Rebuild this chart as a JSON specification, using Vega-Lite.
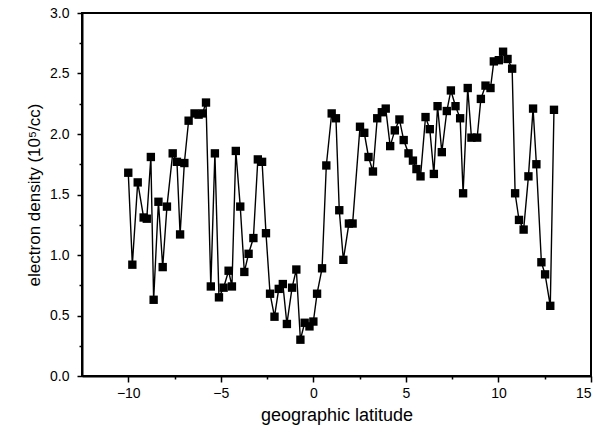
{
  "$schema": "https://vega.github.io/schema/vega-lite/v6.json",
  "width": 509,
  "height": 363,
  "autosize": "none",
  "padding": {"left": 82, "top": 13, "right": 8, "bottom": 59},
  "config": {
    "view": {"stroke": "black", "strokeWidth": 2},
    "font": "Liberation Sans"
  },
  "data": {
    "values": [
      {"lat": -10.0, "ne": 1.68}, {"lat": -9.78, "ne": 0.92}, {"lat": -9.49, "ne": 1.6},
      {"lat": -9.17, "ne": 1.31}, {"lat": -9.0, "ne": 1.3}, {"lat": -8.78, "ne": 1.81},
      {"lat": -8.63, "ne": 0.63}, {"lat": -8.37, "ne": 1.44}, {"lat": -8.14, "ne": 0.9},
      {"lat": -7.91, "ne": 1.4}, {"lat": -7.6, "ne": 1.84}, {"lat": -7.37, "ne": 1.77},
      {"lat": -7.2, "ne": 1.17}, {"lat": -6.97, "ne": 1.76}, {"lat": -6.74, "ne": 2.11},
      {"lat": -6.42, "ne": 2.17}, {"lat": -6.2, "ne": 2.16}, {"lat": -5.99, "ne": 2.17},
      {"lat": -5.8, "ne": 2.26}, {"lat": -5.54, "ne": 0.74}, {"lat": -5.32, "ne": 1.84},
      {"lat": -5.1, "ne": 0.65}, {"lat": -4.85, "ne": 0.73}, {"lat": -4.58, "ne": 0.87},
      {"lat": -4.4, "ne": 0.74}, {"lat": -4.19, "ne": 1.86}, {"lat": -3.95, "ne": 1.4},
      {"lat": -3.73, "ne": 0.86}, {"lat": -3.5, "ne": 1.01}, {"lat": -3.24, "ne": 1.14},
      {"lat": -3.0, "ne": 1.79}, {"lat": -2.77, "ne": 1.77}, {"lat": -2.56, "ne": 1.18},
      {"lat": -2.34, "ne": 0.68}, {"lat": -2.1, "ne": 0.49}, {"lat": -1.87, "ne": 0.72},
      {"lat": -1.65, "ne": 0.76}, {"lat": -1.43, "ne": 0.43}, {"lat": -1.15, "ne": 0.73},
      {"lat": -0.92, "ne": 0.88}, {"lat": -0.7, "ne": 0.3}, {"lat": -0.47, "ne": 0.44},
      {"lat": -0.21, "ne": 0.41}, {"lat": 0.0, "ne": 0.45}, {"lat": 0.2, "ne": 0.68},
      {"lat": 0.47, "ne": 0.89}, {"lat": 0.7, "ne": 1.74}, {"lat": 0.99, "ne": 2.17},
      {"lat": 1.22, "ne": 2.13}, {"lat": 1.4, "ne": 1.37}, {"lat": 1.62, "ne": 0.96},
      {"lat": 1.92, "ne": 1.26}, {"lat": 2.12, "ne": 1.26}, {"lat": 2.52, "ne": 2.06},
      {"lat": 2.75, "ne": 2.01}, {"lat": 2.98, "ne": 1.81}, {"lat": 3.22, "ne": 1.69},
      {"lat": 3.45, "ne": 2.13}, {"lat": 3.7, "ne": 2.18}, {"lat": 3.91, "ne": 2.21},
      {"lat": 4.15, "ne": 1.9}, {"lat": 4.4, "ne": 2.03}, {"lat": 4.65, "ne": 2.12},
      {"lat": 4.88, "ne": 1.95}, {"lat": 5.14, "ne": 1.84}, {"lat": 5.38, "ne": 1.78},
      {"lat": 5.57, "ne": 1.71}, {"lat": 5.79, "ne": 1.65}, {"lat": 6.06, "ne": 2.14},
      {"lat": 6.29, "ne": 2.04}, {"lat": 6.51, "ne": 1.67}, {"lat": 6.71, "ne": 2.23},
      {"lat": 6.94, "ne": 1.85}, {"lat": 7.21, "ne": 2.19}, {"lat": 7.43, "ne": 2.36},
      {"lat": 7.68, "ne": 2.23}, {"lat": 7.93, "ne": 2.13}, {"lat": 8.09, "ne": 1.51},
      {"lat": 8.34, "ne": 2.38}, {"lat": 8.54, "ne": 1.97}, {"lat": 8.85, "ne": 1.97},
      {"lat": 9.05, "ne": 2.29}, {"lat": 9.3, "ne": 2.4}, {"lat": 9.57, "ne": 2.38},
      {"lat": 9.75, "ne": 2.6}, {"lat": 10.02, "ne": 2.61}, {"lat": 10.25, "ne": 2.68},
      {"lat": 10.49, "ne": 2.62}, {"lat": 10.74, "ne": 2.54}, {"lat": 10.9, "ne": 1.51},
      {"lat": 11.11, "ne": 1.29}, {"lat": 11.36, "ne": 1.21}, {"lat": 11.62, "ne": 1.65},
      {"lat": 11.87, "ne": 2.21}, {"lat": 12.05, "ne": 1.75}, {"lat": 12.32, "ne": 0.94},
      {"lat": 12.52, "ne": 0.84}, {"lat": 12.8, "ne": 0.58}, {"lat": 13.0, "ne": 2.2}
    ]
  },
  "layer": [
    {
      "mark": {"type": "line", "color": "black", "strokeWidth": 1.4},
      "encoding": {
        "x": {
          "field": "lat", "type": "quantitative",
          "scale": {"domain": [-12.5, 15], "nice": false, "zero": false},
          "axis": {
            "values": [-10, -5, 0, 5, 10, 15], "grid": false,
            "domainColor": "black", "domainWidth": 2,
            "tickColor": "black", "tickWidth": 1.5, "tickSize": 6,
            "labelColor": "black", "labelFontSize": 14, "labelPadding": 4,
            "title": "geographic latitude", "titleFontSize": 18, "titleFontWeight": "normal",
            "titleColor": "black", "titlePadding": 6
          }
        },
        "y": {
          "field": "ne", "type": "quantitative",
          "scale": {"domain": [0, 3], "nice": false},
          "axis": {
            "values": [0, 0.5, 1, 1.5, 2, 2.5, 3], "format": ".1f", "grid": false,
            "domainColor": "black", "domainWidth": 2,
            "tickColor": "black", "tickWidth": 1.5, "tickSize": 5,
            "labelColor": "black", "labelFontSize": 14, "labelPadding": 8,
            "title": "electron density (10⁵/cc)", "titleFontSize": 17, "titleFontWeight": "normal",
            "titleColor": "black", "titlePadding": 6
          }
        }
      }
    },
    {
      "mark": {"type": "square", "color": "black", "filled": true, "opacity": 1, "size": 70},
      "encoding": {
        "x": {
          "field": "lat", "type": "quantitative",
          "scale": {"domain": [-12.5, 15], "nice": false, "zero": false},
          "axis": {
            "orient": "bottom", "values": [-7.5, -2.5, 2.5, 7.5, 12.5], "grid": false,
            "domain": false, "labels": false, "title": null,
            "tickColor": "black", "tickWidth": 1.5, "tickSize": 3
          }
        },
        "y": {
          "field": "ne", "type": "quantitative",
          "scale": {"domain": [0, 3], "nice": false},
          "axis": {
            "orient": "left", "values": [0.25, 0.75, 1.25, 1.75, 2.25, 2.75], "grid": false,
            "domain": false, "labels": false, "title": null,
            "tickColor": "black", "tickWidth": 1.5, "tickSize": 3
          }
        }
      }
    }
  ],
  "resolve": {"axis": {"x": "independent", "y": "independent"}}
}
